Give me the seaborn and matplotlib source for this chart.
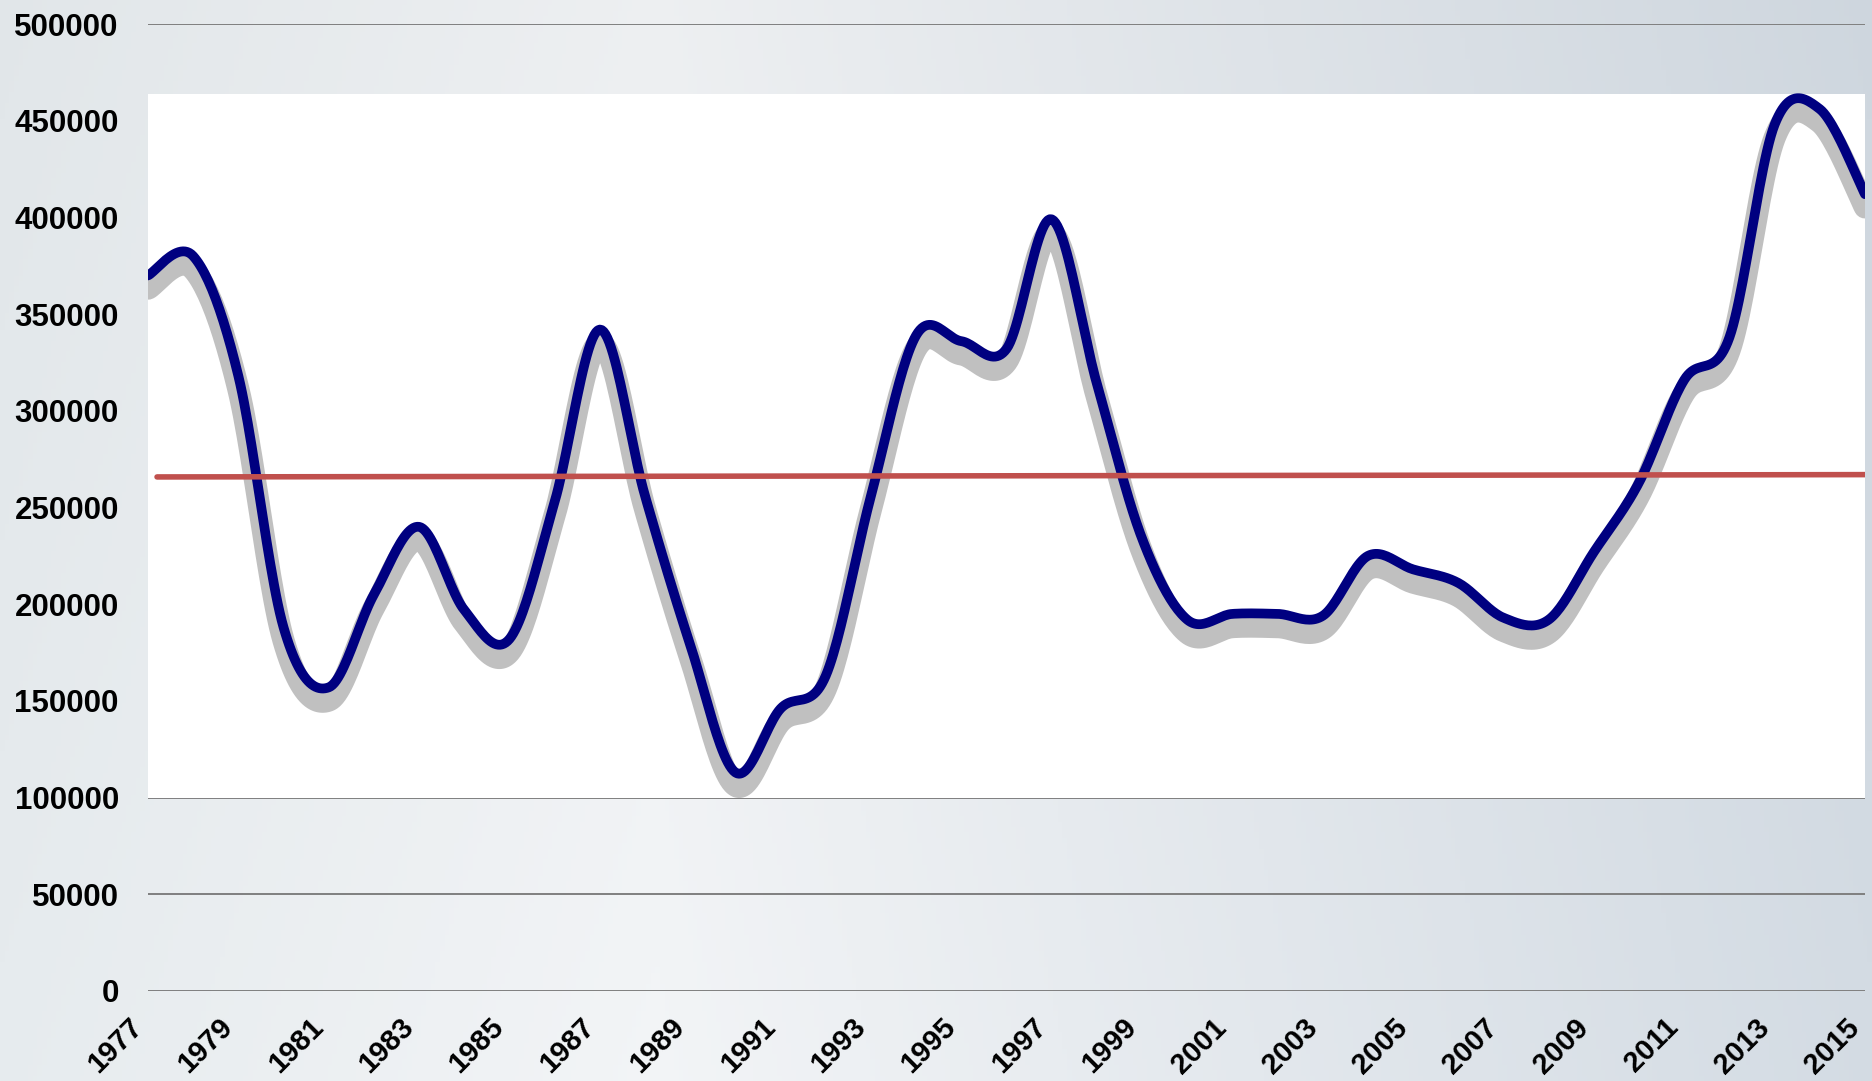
import numpy as np
import pandas as pd
import matplotlib.pyplot as plt
import matplotlib.patheffects as pe
import seaborn as sns

# values
years = list(range(1977, 2016))
values = [370000, 380000, 318000, 188000, 157000, 205000, 240000, 197000, 182000, 253000,
          342000, 256000, 179000, 113000, 146000, 163000, 256000, 339000, 336000, 332000,
          399000, 314000, 234000, 192000, 195000, 195000, 194000, 225000, 218000, 211000,
          193000, 192000, 227000, 263000, 316000, 338000, 448000, 456000, 412000]
avg_years = [1977.2, 2015]
avg_values = [265800, 267000]
year_ticks = list(range(1977, 2016, 2))
value_ticks = list(range(0, 500001, 50000))
panel_band = [100000, 464000]


def smooth_curve(xs, ys, n=24):
    # Excel-like smoothed line: cubic Bezier through every point (Catmull-Rom)
    pts = np.column_stack([xs, ys]).astype(float)
    ext = np.vstack([pts[0], pts, pts[-1]])
    out = []
    t = np.linspace(0, 1, n, endpoint=False)[:, None]
    for i in range(len(pts) - 1):
        p0, p1, p2, p3 = ext[i], ext[i + 1], ext[i + 2], ext[i + 3]
        c1 = p1 + (p2 - p0) / 6
        c2 = p2 - (p3 - p1) / 6
        out.append((1 - t) ** 3 * p1 + 3 * (1 - t) ** 2 * t * c1 + 3 * (1 - t) * t ** 2 * c2 + t ** 3 * p2)
    out.append(pts[-1:])
    return np.vstack(out)


sns.set_style("white")
plt.rcParams['font.family'] = ['Liberation Sans', 'DejaVu Sans']

fig = plt.figure(figsize=(18.72, 10.81), dpi=100)

# soft gradient backdrop
bg = fig.add_axes([0, 0, 1, 1], zorder=-5)
gx = np.linspace(0, 1, 400)
gy = np.linspace(0, 1, 200)
X, Y = np.meshgrid(gx, gy)
left = np.array([228, 233, 236]) / 255
mid = np.array([240, 242, 244]) / 255
right = np.array([209, 217, 225]) / 255
w = np.clip((X - 0.35) / 0.65, 0, 1)[..., None]
base = np.where(X[..., None] < 0.35,
                left + (mid - left) * (X[..., None] / 0.35),
                mid + (right - mid) * w)
base = base + (Y[..., None] - 0.5) * 0.02
bg.imshow(np.clip(base, 0, 1), aspect='auto', extent=[0, 1, 0, 1], origin='upper')
bg.axis('off')

ax = fig.add_axes([148 / 1872, 1 - 991 / 1081, 1717 / 1872, (991 - 24) / 1081])
ax.set_facecolor('none')

ax.set_axisbelow(True)
ax.grid(axis='y', color='#7f7f7f', linewidth=1.4)
ax.grid(axis='x', visible=False)
ax.axhspan(panel_band[0], panel_band[1], color='white', zorder=1, lw=0)

curve = smooth_curve(years, values)
df = pd.DataFrame({'year': curve[:, 0], 'value': curve[:, 1]})
sns.lineplot(data=df, x='year', y='value', sort=False, estimator=None, ax=ax,
             color='#000080', linewidth=7, zorder=3,
             path_effects=[pe.Stroke(offset=(0, -9.5), linewidth=16, foreground='#c0c0c0'),
                           pe.Normal()])

avg_df = pd.DataFrame({'year': avg_years, 'value': avg_values})
sns.lineplot(data=avg_df, x='year', y='value', sort=False, estimator=None, ax=ax,
             color='#c0504d', linewidth=4, zorder=4)

ax.set_xlim(1977, 2015)
ax.set_ylim(0, 500000)
ax.set_xticks(year_ticks)
ax.set_xticklabels([str(y) for y in year_ticks], rotation=45, ha='right',
                   fontsize=21, fontweight='bold', color='black')
ax.set_yticks(value_ticks)
ax.set_yticklabels([str(v) for v in value_ticks], fontsize=22.5, fontweight='bold', color='black')
ax.tick_params(axis='y', length=0, pad=21)
ax.tick_params(axis='x', length=0, pad=16)
ax.set_xlabel('')
ax.set_ylabel('')
for s in ax.spines.values():
    s.set_visible(False)

fig.savefig('out.png', dpi=100)
